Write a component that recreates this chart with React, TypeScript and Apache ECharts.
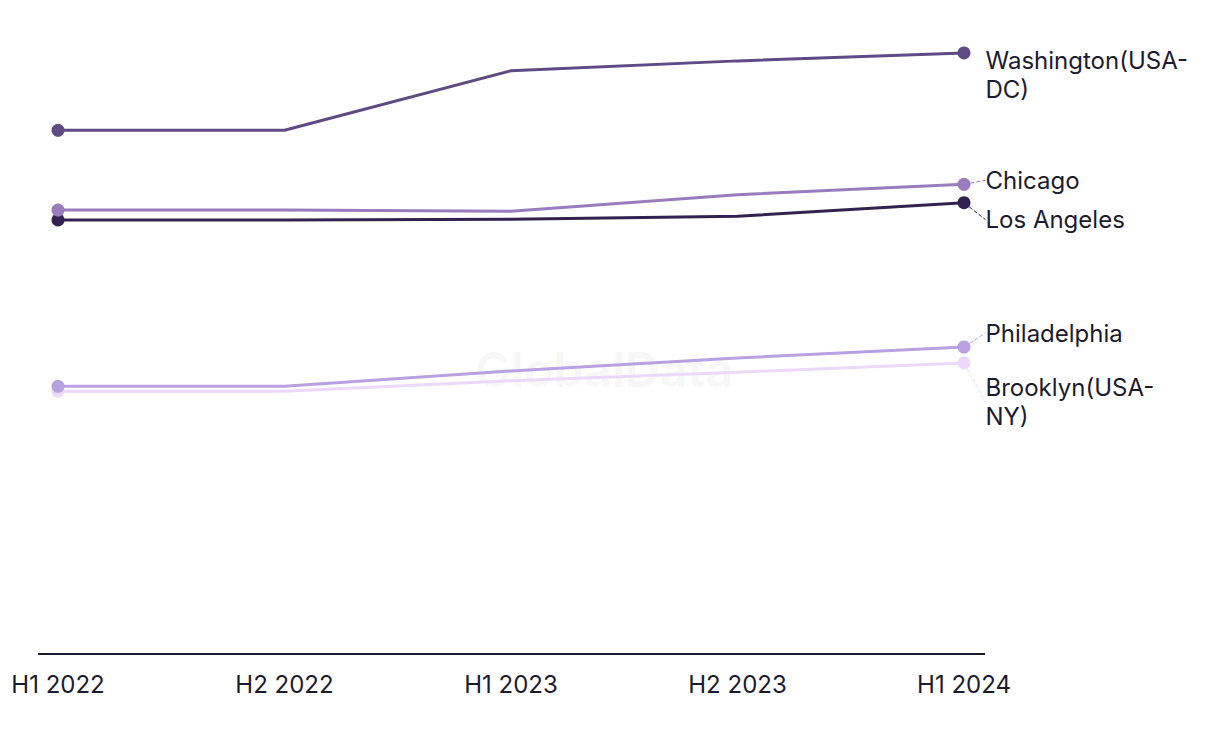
import React, { useEffect, useRef } from "react";
import * as echarts from "echarts";

const categories = ["H1 2022", "H2 2022", "H1 2023", "H2 2023", "H1 2024"];
const seriesNames = ["Washington(USA-\nDC)", "Chicago", "Los Angeles", "Philadelphia", "Brooklyn(USA-\nNY)"];
const washington = [85.3, 85.3, 95.0, 96.6, 97.9];
const chicago = [72.3, 72.3, 72.1, 74.8, 76.5];
const losAngeles = [70.7, 70.7, 70.8, 71.3, 73.5];
const philadelphia = [43.6, 43.6, 46.1, 48.2, 50.0];
const brooklyn = [42.8, 42.8, 44.5, 45.9, 47.4];
const seriesValues = [washington, chicago, losAngeles, philadelphia, brooklyn];
const colors = ["#5f4a85", "#9a7bbd", "#33224f", "#b9a0e0", "#ecd8fb"];
const labelDy = [22, -4, 17, -14, 39];
const showLeader = [false, true, true, true, true];
const FONT = "Inter, 'Noto Sans', sans-serif";

export default function App() {
  const ref = useRef<HTMLDivElement>(null);
  useEffect(() => {
    if (!ref.current) return;
    const chart = echarts.init(ref.current, null, { renderer: "svg" });
    const series = seriesValues.map((vals, i) => ({
      name: seriesNames[i],
      type: "line",
      data: vals.map((v, j) => {
        const last = j === vals.length - 1;
        const first = j === 0;
        if (last) {
          return {
            value: v,
            label: {
              show: true,
              position: "right",
              distance: 15,
              formatter: seriesNames[i],
              fontSize: 24,
              lineHeight: 29,
              color: "#1c1b2e",
              fontFamily: FONT,
            },
          };
        }
        if (first) return v;
        return { value: v, symbol: "none" };
      }),
      symbol: "circle",
      symbolSize: 13,
      showSymbol: true,
      itemStyle: { color: colors[i] },
      lineStyle: { color: colors[i], width: 3 },
      labelLine: { show: showLeader[i], lineStyle: { color: colors[i], width: 1, type: "dashed" } },
      labelLayout: { dy: labelDy[i] },
      z: 10 - i,
    }));
    chart.setOption({
      animation: false,
      backgroundColor: "#ffffff",
      grid: { left: 58, right: 256, top: 40, bottom: 90 },
      xAxis: {
        type: "category",
        data: categories,
        boundaryGap: false,
        axisLine: { show: false },
        axisTick: { show: false },
        axisLabel: {
          fontSize: 24,
          color: "#1c1b2e",
          margin: 18,
          fontFamily: FONT,
        },
        splitLine: { show: false },
      },
      yAxis: { type: "value", min: 0, max: 100, show: false, splitLine: { show: false } },
      graphic: [
        {
          type: "text",
          left: 475,
          top: 345,
          z: 0,
          style: {
            text: "GlobalData",
            fontSize: 48,
            fontWeight: "bold",
            fontFamily: FONT,
            fill: "rgba(0,0,0,0.035)",
          },
        },
        {
          type: "line",
          shape: { x1: 38, y1: 654, x2: 985, y2: 654 },
          style: { stroke: "#1a1a2e", lineWidth: 2 },
          z: 5,
        },
      ],
      series,
    });
    return () => chart.dispose();
  }, []);
  return <div ref={ref} style={{ position: "fixed", left: 0, top: 0, width: 1220, height: 744 }} />;
}
